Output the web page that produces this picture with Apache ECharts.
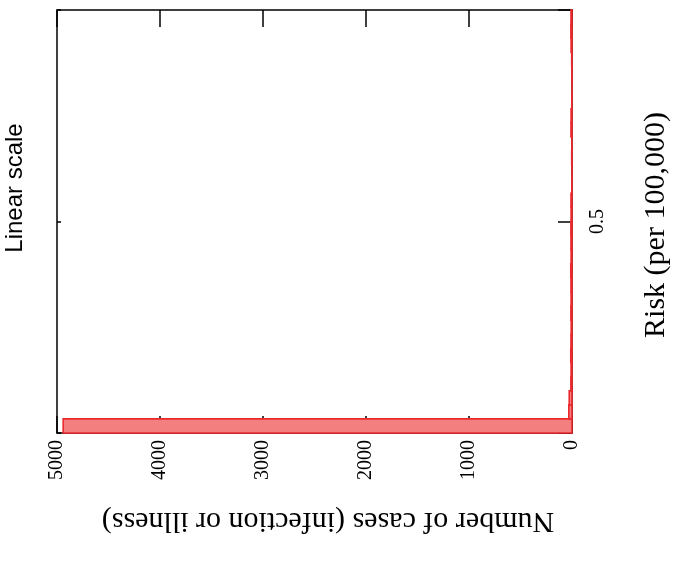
<!DOCTYPE html>
<html>
<head>
<meta charset="utf-8">
<script src="https://cdn.jsdelivr.net/npm/echarts@6/dist/echarts.min.js"></script>
<style>html,body{margin:0;padding:0;background:#fff}#c{width:678px;height:562px}</style>
</head>
<body>
<div id="c"></div>
<script>
// Histogram bins of risk (per 100,000) and number of cases in each bin
const binLower = [0.0000,0.0333,0.0667,0.1000,0.1333,0.1667,0.2000,0.2333,0.2667,0.3000,
                  0.3333,0.3667,0.4000,0.4333,0.4667,0.5000,0.5333,0.5667,0.6000,0.6333,
                  0.6667,0.7000,0.7333,0.7667,0.8000,0.8333,0.8667,0.9000,0.9333,0.9667];
const binUpper = [0.0333,0.0667,0.1000,0.1333,0.1667,0.2000,0.2333,0.2667,0.3000,0.3333,
                  0.3667,0.4000,0.4333,0.4667,0.5000,0.5333,0.5667,0.6000,0.6333,0.6667,
                  0.7000,0.7333,0.7667,0.8000,0.8333,0.8667,0.9000,0.9333,0.9667,1.0000];
const caseCounts = [4940,31,27,11,9,12,10,8,11,9,
                    10,12,9,10,11,9,10,2,1,3,
                    2,10,9,2,1,2,3,9,11,10];
const countTicks = [0,1000,2000,3000,4000,5000];
const riskTickLabels = ['0.5'];

const titleText = 'Linear scale';
const riskTitle = 'Risk (per 100,000)';
const countTitle = 'Number of cases (infection or illness)';

const data = binLower.map((lo, i) => [lo, binUpper[i], caseCounts[i]]);

const chart = echarts.init(document.getElementById('c'), null, {renderer: 'canvas'});
const serif = 'Liberation Serif, Times New Roman, serif';
const black = '#000';

const xCommon = {
  type: 'value', min: 0, max: 5000, interval: 1000, inverse: true,
  splitLine: {show: false},
  axisLine: {show: true, onZero: false, lineStyle: {color: black, width: 1.5}},
  axisTick: {show: true, inside: true, length: 17, lineStyle: {color: black, width: 1.5}}
};

chart.setOption({
  animation: false,
  backgroundColor: '#fff',
  grid: {left: 57, right: 106, top: 10, bottom: 129, containLabel: false},
  xAxis: [
    Object.assign({}, xCommon, {
      position: 'bottom',
      axisLabel: {
        show: true, rotate: 90, margin: 7, color: black, fontFamily: serif, fontSize: 20,
        formatter: v => countTicks.indexOf(v) >= 0 ? String(v) : ''
      }
    }),
    Object.assign({}, xCommon, {position: 'top', axisLabel: {show: false}})
  ],
  yAxis: [
    {
      type: 'value', min: 0, max: 1, interval: 0.5, position: 'right',
      splitLine: {show: false},
      axisLine: {show: true, onZero: false, lineStyle: {color: black, width: 1.5}},
      axisTick: {show: true, inside: true, length: 14, lineStyle: {color: black, width: 1.5}},
      axisLabel: {
        show: true, rotate: 90, margin: 16, color: black, fontFamily: serif, fontSize: 20,
        formatter: v => riskTickLabels.indexOf(String(v)) >= 0 ? String(v) : ''
      }
    },
    {
      type: 'value', min: 0, max: 1, interval: 0.5, position: 'left',
      splitLine: {show: false},
      axisLine: {show: true, onZero: false, lineStyle: {color: black, width: 1.5}},
      axisTick: {show: true, inside: true, length: 4, lineStyle: {color: black, width: 1.5}},
      axisLabel: {show: false}
    }
  ],
  graphic: [
    {type: 'text', x: 15, y: 188, rotation: Math.PI / 2,
     style: {text: titleText, font: '24px "Liberation Sans", Arial, sans-serif', fill: black,
             align: 'center', verticalAlign: 'middle'}},
    {type: 'text', x: 656, y: 225, rotation: Math.PI / 2,
     style: {text: riskTitle, font: '30px "Liberation Serif", serif', fill: black,
             align: 'center', verticalAlign: 'middle'}},
    {type: 'text', x: 328, y: 521, rotation: Math.PI,
     style: {text: countTitle, font: '30px "Liberation Serif", serif', fill: black,
             align: 'center', verticalAlign: 'middle'}}
  ],
  series: [{
    type: 'custom',
    xAxisIndex: 0, yAxisIndex: 0,
    encode: {x: 2, y: [0, 1]},
    data: data,
    z: 5,
    renderItem: function (params, api) {
      const lo = api.value(0), hi = api.value(1), c = api.value(2);
      const pTop = api.coord([c, hi]);
      const pBase = api.coord([0, lo]);
      const x = Math.min(pTop[0], pBase[0]);
      const w = Math.abs(pBase[0] - pTop[0]);
      return {
        type: 'rect',
        shape: {x: x, y: pTop[1], width: w, height: pBase[1] - pTop[1]},
        style: {fill: '#F47F7F', stroke: '#EC2A2E', lineWidth: 1.6}
      };
    }
  }]
});
</script>
</body>
</html>
